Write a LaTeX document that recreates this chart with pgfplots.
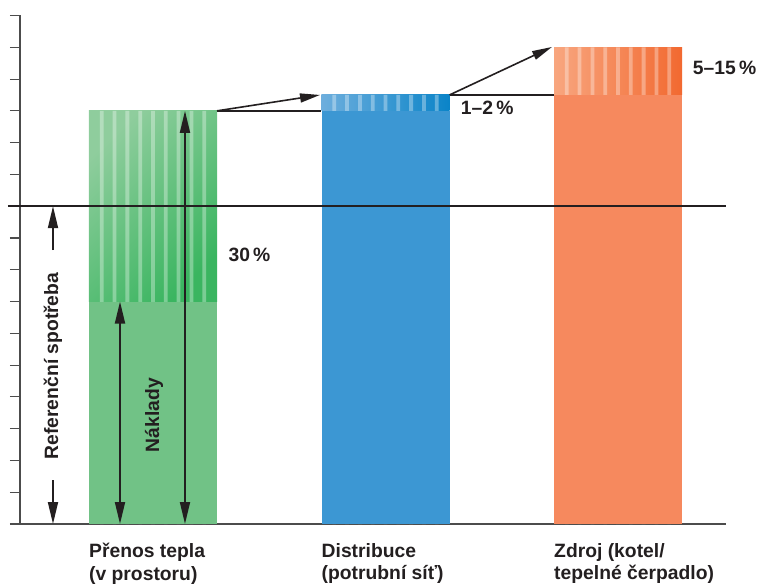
\documentclass[border=0pt]{standalone}
\usepackage{pgfplots}
\pgfplotsset{compat=1.18}
\usepackage{fontspec}
\setmainfont{Liberation Sans}
\usetikzlibrary{arrows.meta}
\definecolor{gsolid}{HTML}{71C286}
\definecolor{gA}{HTML}{8FCD9D}
\definecolor{gB}{HTML}{3AB560}
\definecolor{bsolid}{HTML}{3C97D3}
\definecolor{bA}{HTML}{6DAEDD}
\definecolor{bB}{HTML}{0A84C8}
\definecolor{osolid}{HTML}{F6895E}
\definecolor{oA}{HTML}{F8A67F}
\definecolor{oB}{HTML}{F26930}
\definecolor{txt}{HTML}{231F20}
\begin{document}
\fontsize{19.3}{22.5}\selectfont\bfseries
\begin{tikzpicture}
\useasboundingbox (-20pt,-63pt) rectangle (740pt,524pt);
\begin{axis}[
  at={(0pt,0pt)}, anchor=south west,
  scale only axis, width=706pt, height=508.5pt,
  xmin=-0.572, xmax=2.4645, ymin=0, ymax=16,
  axis lines*=left,
  axis line style={draw=black!70, line width=1.3pt},
  clip=false,
  ytick={0,...,16}, yticklabels={},
  yticklabel style={inner sep=0pt, outer sep=0pt},
  ytick style={draw=black!70, line width=1.1pt},
  tick align=outside, major tick length=10pt,
  xtick={0,1,2}, xtick style={draw=none},
  xticklabels={{Přenos tepla\\(v prostoru)},{Distribuce\\(potrubní síť)},{Zdroj (kotel/\\tepelné čerpadlo)}},
  xticklabel style={anchor=north west, align=left, inner sep=0pt, xshift=-64pt, yshift=-9pt, text=txt},
]
% ---- striped segments (shaded)
\addplot[draw=none, top color=gA, bottom color=gB, shading angle=45] coordinates {(-0.2753,7) (0.2753,7) (0.2753,13) (-0.2753,13) (-0.2753,7)};
\addplot[draw=none, left color=bA, right color=bB] coordinates {(0.7247,13) (1.2753,13) (1.2753,13.5) (0.7247,13.5) (0.7247,13)};
\addplot[draw=none, left color=oA, right color=oB] coordinates {(1.7247,13.5) (2.2753,13.5) (2.2753,15) (1.7247,15) (1.7247,13.5)};
% ---- light stripes
\addplot[ybar, bar width=3.8pt, bar shift=0pt, fill=white, fill opacity=0.33, draw=none] coordinates {(-0.2202,13) (-0.1652,13) (-0.1101,13) (-0.0551,13) (0,13) (0.0551,13) (0.1101,13) (0.1652,13) (0.2202,13)};
\addplot[ybar, bar width=3.8pt, bar shift=0pt, fill=white, fill opacity=0.33, draw=none] coordinates {(0.7798,13.5) (0.8348,13.5) (0.8899,13.5) (0.9449,13.5) (1,13.5) (1.0551,13.5) (1.1101,13.5) (1.1652,13.5) (1.2202,13.5)};
\addplot[ybar, bar width=3.8pt, bar shift=0pt, fill=white, fill opacity=0.33, draw=none] coordinates {(1.7798,15) (1.8348,15) (1.8899,15) (1.9449,15) (2,15) (2.0551,15) (2.1101,15) (2.1652,15) (2.2202,15)};
% ---- solid parts
\addplot[ybar, bar width=128pt, bar shift=0pt, fill=gsolid, draw=none] coordinates {(0,7)};
\addplot[ybar, bar width=128pt, bar shift=0pt, fill=bsolid, draw=none] coordinates {(1,13)};
\addplot[ybar, bar width=128pt, bar shift=0pt, fill=osolid, draw=none] coordinates {(2,13.5)};
% ---- reference line
\addplot[txt, line width=1.8pt] coordinates {(-0.6237,10) (2.4645,10)};
% ---- connecting lines and arrows
\draw[txt, line width=1.6pt] (0.2753,13) -- (0.7247,13);
\draw[txt, line width=1.6pt] (1.2753,13.5) -- (1.7247,13.5);
\draw[txt, line width=1.6pt, -{Triangle[length=20pt,width=9pt]}] (0.2753,13) -- (0.7183,13.5);
\draw[txt, line width=1.6pt, -{Triangle[length=20pt,width=9pt]}] (1.2753,13.5) -- (1.7161,15.01);
% ---- vertical arrows
\draw[txt, line width=1.8pt, {Triangle[length=22pt,width=10pt]}-{Triangle[length=22pt,width=10pt]}] (-0.1419,7) -- (-0.1419,0);
\draw[txt, line width=1.8pt, {Triangle[length=22pt,width=10pt]}-{Triangle[length=22pt,width=10pt]}] (0.1376,13) -- (0.1376,0);
\draw[txt, line width=1.8pt, -{Triangle[length=22pt,width=10pt]}] (-0.4301,8.62) -- (-0.4301,10);
\draw[txt, line width=1.8pt, -{Triangle[length=22pt,width=10pt]}] (-0.4301,1.38) -- (-0.4301,0);
% ---- labels
\node[text=txt, anchor=base west, inner sep=0pt] at (0.324,8.244) {30\,\%};
\node[text=txt, anchor=base west, inner sep=0pt] at (1.3234,12.87) {1–2\,\%};
\node[text=txt, anchor=base west, inner sep=0pt] at (2.3213,14.15) {5–15\,\%};
\node[text=txt, rotate=90, inner sep=0pt] at (-0.4301,4.97) {Referenční spotřeba};
\node[text=txt, rotate=90, inner sep=0pt] at (0.005,3.43) {Náklady};
\end{axis}
\end{tikzpicture}
\end{document}
